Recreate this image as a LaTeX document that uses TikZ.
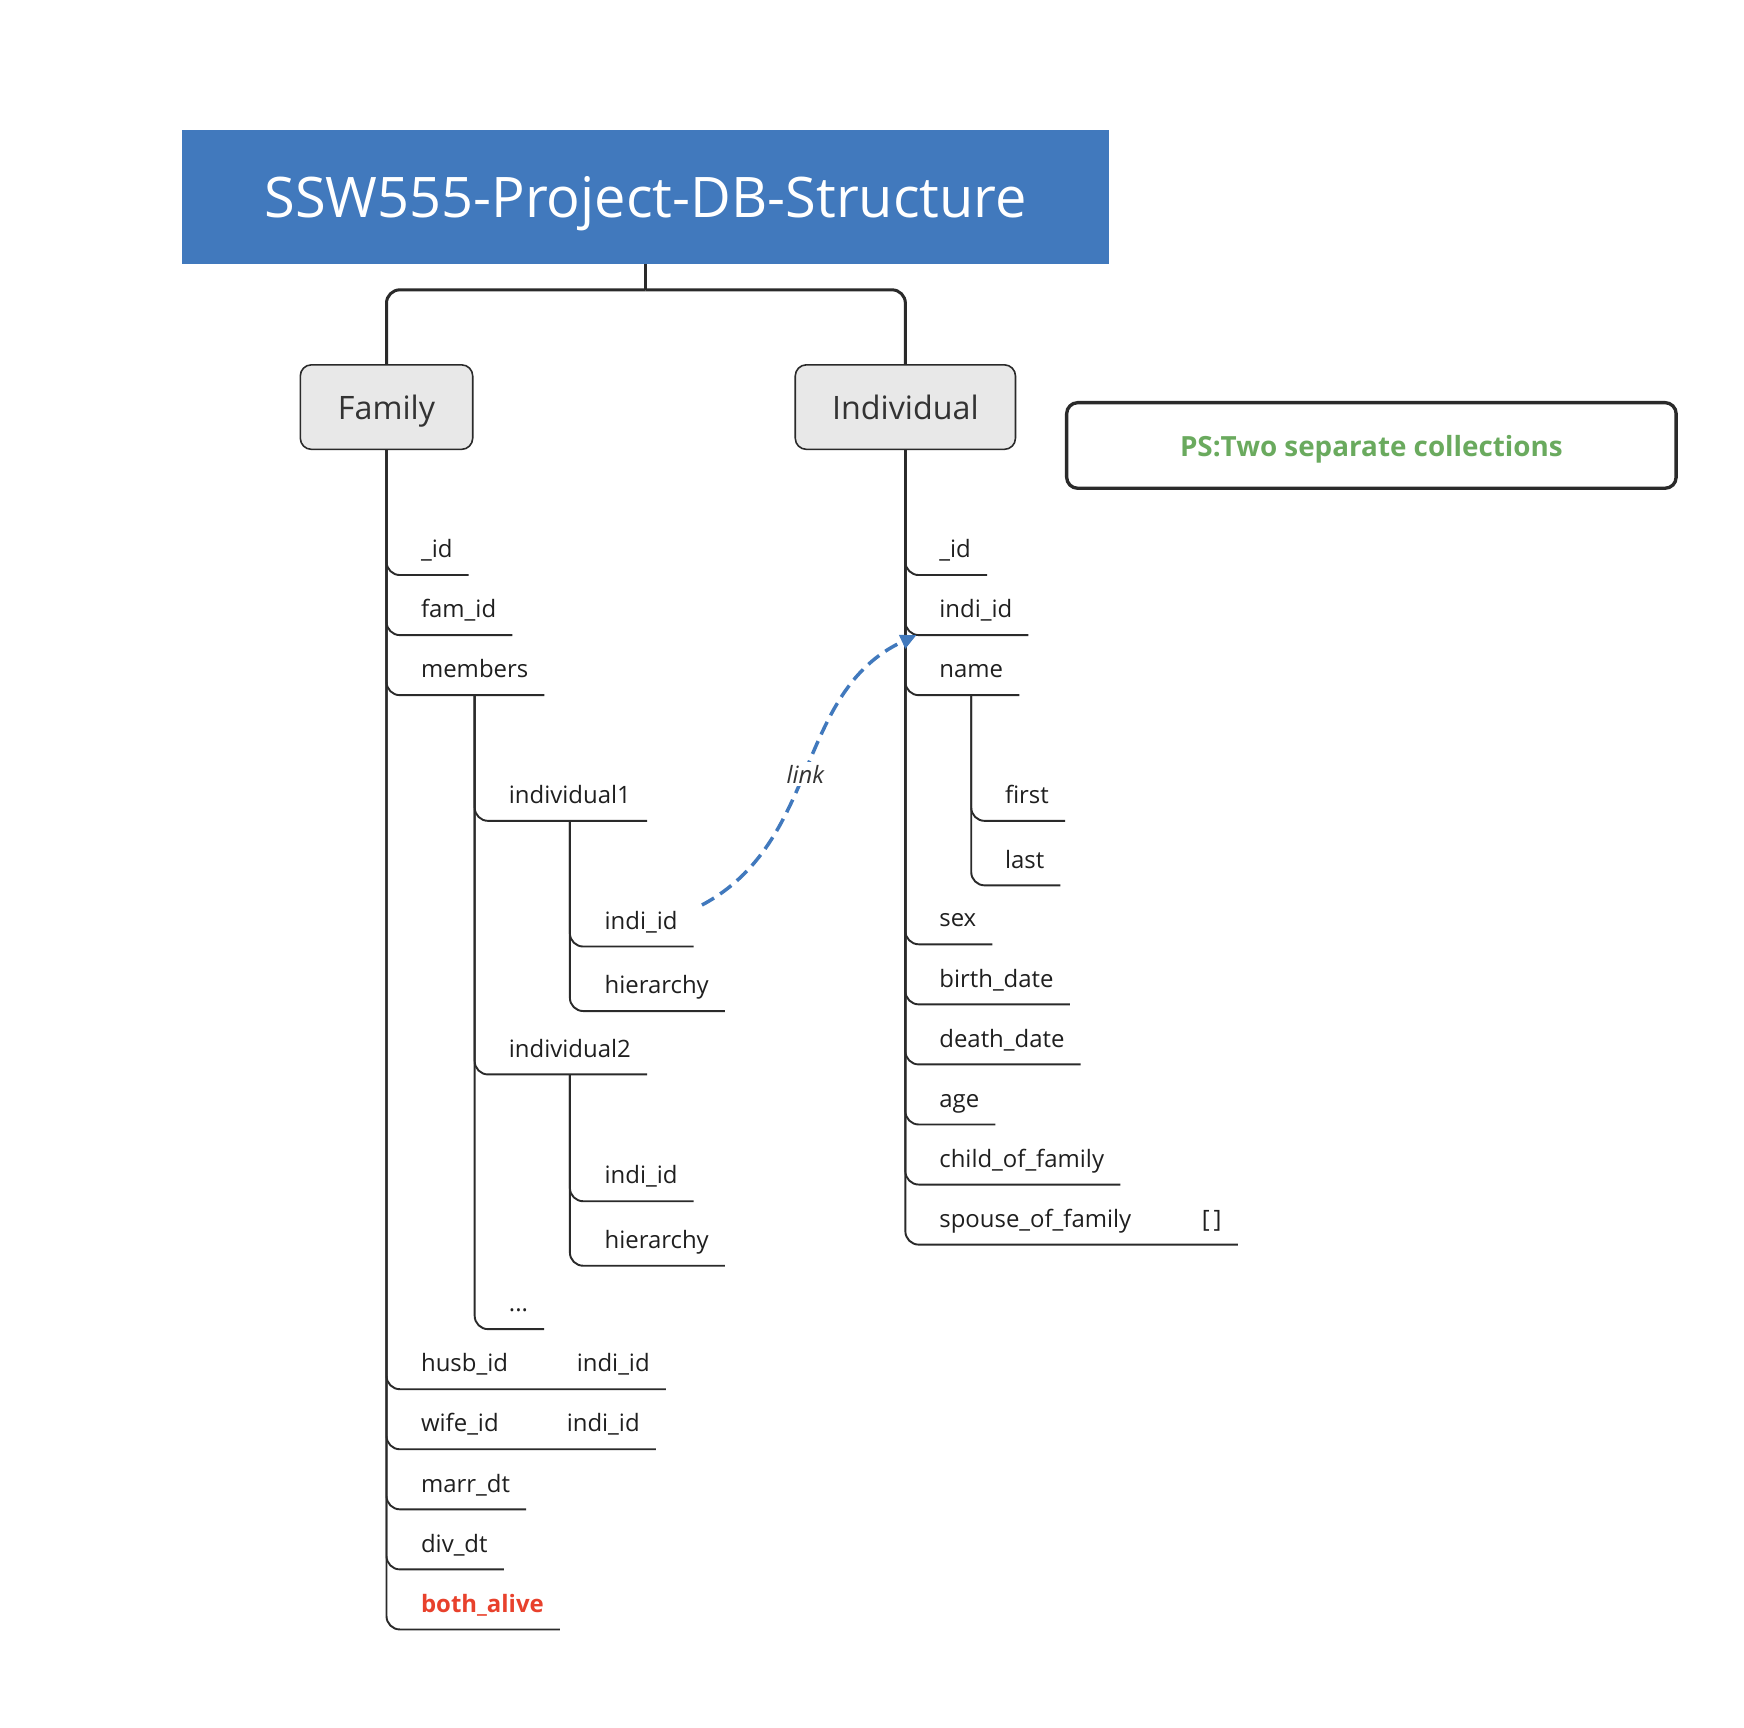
\documentclass[tikz,border=0pt]{standalone}
\usepackage{fontspec}
\setmainfont{Open Sans}
\usetikzlibrary{arrows.meta}
\definecolor{titleblue}{HTML}{4179BD}
\definecolor{boxgray}{HTML}{E8E8E8}
\definecolor{linegray}{HTML}{2A2A2A}
\definecolor{psgreen}{HTML}{6AAA5E}
\definecolor{alivered}{HTML}{E8412C}
\begin{document}
\begin{tikzpicture}[x=0.35pt,y=-0.35pt,
  item/.style={anchor=south west,xshift=-4.9pt,inner xsep=4.9pt,inner ysep=0pt,text depth=5.25pt,font=\fontsize{7.53pt}{9pt}\selectfont,text=black!88},
  branch/.style={draw=linegray,line width=0.6pt,rounded corners=4.2pt},
  trunk/.style={draw=linegray,line width=0.95pt,rounded corners=4.2pt},
  coll/.style={draw=linegray,fill=boxgray,rounded corners=3.5pt,line width=0.5pt,minimum height=26.6pt,text height=0.76em,text depth=0pt,font=\fontsize{10.15pt}{12pt}\selectfont,text=black!80},
  link/.style={draw=titleblue,line width=1.1pt,dash pattern=on 4.4pt off 2.3pt,-{Triangle[length=5pt,width=4.5pt]}}]
\useasboundingbox (0,0) rectangle (1568,1553.6);
\node[fill=titleblue,minimum width=291.55pt,minimum height=42pt,text depth=0pt,text=white,font=\fontsize{17.6pt}{21pt}\selectfont] (title) at (580.5,177) {SSW555-Project-DB-Structure};
\node[coll,minimum width=54.25pt] (fam) at (347.5,366) {Family};
\node[coll,minimum width=69.3pt] (ind) at (814,366) {Individual};
\node[draw=linegray,line width=1.05pt,rounded corners=3.5pt,minimum width=191.8pt,minimum height=26.95pt,text depth=0pt,text=psgreen,font=\bfseries\fontsize{8.75pt}{10pt}\selectfont] (ps) at (1233,400.5) {PS:Two separate collections};
\coordinate (split) at ([yshift=-8.05pt]title.south);
\draw[trunk] (title.south) -- (split);
\draw[trunk] (split) -| (fam.north);
\draw[trunk] (split) -| (ind.north);
\foreach \n/\t/\y in {fid0/\_id/517,ffid/fam\_id/571,fmem/members/625,fhusb/husb\_id/1249,fwife/wife\_id/1303,fmarr/marr\_dt/1357,fdiv/div\_dt/1411}
  \node[item] (\n) at (378,\y) {\t};
\node[item,text=alivered,font=\bfseries\fontsize{7.53pt}{9pt}\selectfont] (fboth) at (378,1465) {both\_alive};
\node[item] (fhusbt) at (518,1249) {indi\_id};
\node[item] (fwifet) at (509,1303) {indi\_id};
\foreach \n/\t/\y in {mi1/individual1/738,mi2/individual2/966}
  \node[item] (\n) at (457,\y) {\t};
\node[item] (mdots) at (457,1195) {...};
\foreach \n/\t/\y in {i1id/indi\_id/851,i1h/hierarchy/909,i2id/indi\_id/1080,i2h/hierarchy/1138}
  \node[item] (\n) at (543,\y) {\t};
\foreach \n/\t/\y in {iid/\_id/517,iindi/indi\_id/571,iname/name/625,isex/sex/849,ibirth/birth\_date/903,ideath/death\_date/957,iage/age/1011,ichild/child\_of\_family/1065,ispouse/spouse\_of\_family/1119}
  \node[item] (\n) at (844,\y) {\t};
\node[item] (ispouset) at (1080,1119) {[\,]};
\foreach \n/\t/\y in {nfirst/first/738,nlast/last/796}
  \node[item] (\n) at (903,\y) {\t};
\foreach \n in {fid0,ffid,fmem,fhusbt,fwifet,fmarr,fdiv,fboth}
  \draw[branch] (fam.south) |- (\n.south east);
\foreach \n in {mi1,mi2,mdots}
  \draw[branch] (fmem.south) |- (\n.south east);
\foreach \n in {i1id,i1h}
  \draw[branch] (mi1.south) |- (\n.south east);
\foreach \n in {i2id,i2h}
  \draw[branch] (mi2.south) |- (\n.south east);
\foreach \n in {iid,iindi,iname,isex,ibirth,ideath,iage,ichild,ispouset}
  \draw[branch] (ind.south) |- (\n.south east);
\foreach \n in {nfirst,nlast}
  \draw[branch] (iname.south) |- (\n.south east);
\draw[link] ([shift={(2.6pt,1.7pt)}]i1id.north east) to[out=28,in=205] node[pos=0.48,fill=white,inner sep=1pt,text=black!80,font=\itshape\fontsize{7.5pt}{8pt}\selectfont]{link} ([xshift=-2.1pt]iindi.south west);
\end{tikzpicture}
\end{document}
